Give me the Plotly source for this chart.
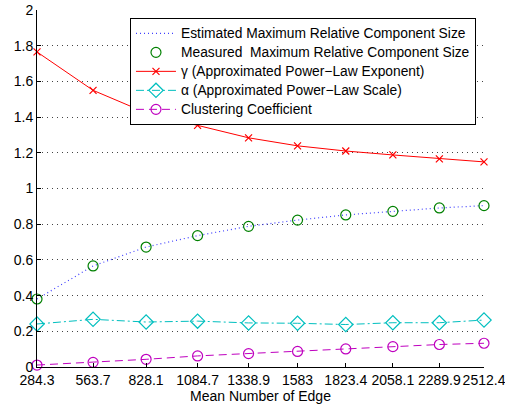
import plotly.graph_objects as go

edges = [284.3, 563.7, 828.1, 1084.7, 1338.9, 1583, 1823.4, 2058.1, 2289.9, 2512.4]
edge_labels = ["284.3", "563.7", "828.1", "1084.7", "1338.9", "1583", "1823.4", "2058.1", "2289.9", "2512.4"]
estimated = [0.381, 0.566, 0.672, 0.736, 0.788, 0.823, 0.852, 0.872, 0.891, 0.904]
measured = [0.381, 0.566, 0.672, 0.736, 0.788, 0.823, 0.852, 0.872, 0.891, 0.904]
gamma = [1.765, 1.55, 1.424, 1.354, 1.284, 1.239, 1.210, 1.188, 1.166, 1.149]
alpha = [0.241, 0.267, 0.252, 0.257, 0.247, 0.245, 0.238, 0.248, 0.248, 0.263]
clustering = [0.011, 0.026, 0.043, 0.062, 0.075, 0.087, 0.101, 0.114, 0.126, 0.133]

names = ["Estimated Maximum Relative Component Size",
         "Measured\u00a0 Maximum Relative Component Size",
         "\u03b3 (Approximated Power\u2212Law Exponent)",
         "\u03b1 (Approximated Power\u2212Law Scale)",
         "Clustering Coefficient"]

FONT = "Liberation Sans, Arial, Helvetica, sans-serif"


def lg(s):
    return '<span style="font-size:13.8px">' + s + '</span>'


fig = go.Figure()
fig.add_trace(go.Scatter(x=edges, y=estimated, mode="lines", name=lg(names[0]),
                         line=dict(color="#4040ff", width=1.2, dash="1px,3px"), cliponaxis=False))
fig.add_trace(go.Scatter(x=edges, y=measured, mode="markers", name=lg(names[1]),
                         marker=dict(symbol="circle-open", size=10, color="#008000", line=dict(width=1.2)),
                         cliponaxis=False))
fig.add_trace(go.Scatter(x=edges, y=gamma, mode="lines+markers", name=lg(names[2]),
                         line=dict(color="#ff0000", width=1),
                         marker=dict(symbol="x-thin-open", size=7, color="#ff0000", line=dict(width=1.2, color="#ff0000")),
                         cliponaxis=False))
fig.add_trace(go.Scatter(x=edges, y=alpha, mode="lines+markers", name=lg(names[3]),
                         line=dict(color="#00bfbf", width=1, dash="8px,3px,2px,3px"),
                         marker=dict(symbol="diamond-open", size=11, color="#00bfbf", line=dict(width=1.2)),
                         cliponaxis=False))
fig.add_trace(go.Scatter(x=edges, y=clustering, mode="lines+markers", name=lg(names[4]),
                         line=dict(color="#bf00bf", width=1, dash="8px,5px"),
                         marker=dict(symbol="circle-open", size=10, color="#bf00bf", line=dict(width=1.2)),
                         cliponaxis=False))

fig.update_layout(
    width=505, height=406,
    margin=dict(l=37, r=21, t=10, b=39),
    paper_bgcolor="white", plot_bgcolor="white",
    font=dict(family=FONT, size=14, color="black"),
    showlegend=True,
    legend=dict(x=0.208, y=0.978, xanchor="left", yanchor="top",
                bgcolor="white", bordercolor="black", borderwidth=1,
                font=dict(size=11.5, family=FONT), tracegroupgap=0,
                itemwidth=40),
)
fig.update_xaxes(range=[284.3, 2512.4], tickvals=edges, ticktext=edge_labels,
                 showgrid=False, zeroline=False, showline=True, linecolor="black", linewidth=1,
                 ticks="inside", ticklen=4, tickcolor="black", automargin=False,
                 ticklabeloverflow="allow", tickangle=0,
                 title=dict(text="Mean Number of Edge", standoff=2, font=dict(size=14)),
                 tickfont=dict(size=14))
fig.update_yaxes(range=[0, 2], tickvals=[0, 0.2, 0.4, 0.6, 0.8, 1, 1.2, 1.4, 1.6, 1.8, 2],
                 ticktext=["0", "0.2", "0.4", "0.6", "0.8", "1", "1.2", "1.4", "1.6", "1.8", "2"],
                 showgrid=True, gridcolor="#444444", griddash="1px,4px", gridwidth=1,
                 zeroline=False, showline=True, linecolor="black", linewidth=1, automargin=False,
                 ticks="inside", ticklen=4, tickcolor="black", tickfont=dict(size=14))

fig.write_html("out.html")
